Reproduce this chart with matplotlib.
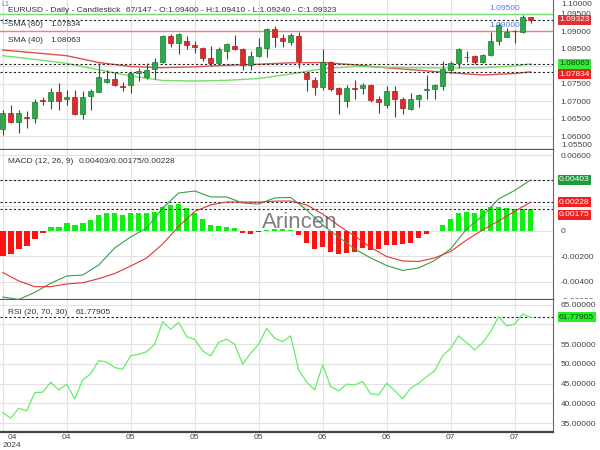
import matplotlib
matplotlib.use('Agg')
import matplotlib.pyplot as plt
import numpy as np
from matplotlib.transforms import blended_transform_factory, offset_copy, Bbox, TransformedBbox

plt.rcParams['font.family'] = ['Liberation Sans', 'DejaVu Sans']

#%% Dados
opens = [1.06200, 1.06657, 1.06400, 1.06557, 1.06514, 1.07029, 1.06986, 1.07243, 1.07057, 1.07114,
         1.06629, 1.07143, 1.07271, 1.07557, 1.07629, 1.07437, 1.07457, 1.07791, 1.07694, 1.07906,
         1.08123, 1.08857, 1.08649, 1.08714, 1.08600, 1.08523, 1.08220, 1.08077, 1.08429, 1.08580,
         1.08486, 1.08029, 1.08286, 1.08506, 1.09049, 1.08791, 1.08694, 1.08857, 1.07791, 1.07600,
         1.07391, 1.08106, 1.07363, 1.07000, 1.07380, 1.07363, 1.07449, 1.07049, 1.06886, 1.07294,
         1.07049, 1.06771, 1.07057, 1.07323, 1.07334, 1.07429, 1.07886, 1.08094, 1.08257, 1.08286,
         1.08114, 1.08314, 1.08723, 1.08837, 1.09006, 1.08980, 1.09400]
highs = [1.06743, 1.06886, 1.06743, 1.06714, 1.07057, 1.07114, 1.07371, 1.07514, 1.07314, 1.07314,
         1.07300, 1.07343, 1.08100, 1.07886, 1.07843, 1.07557, 1.07843, 1.07929, 1.08077, 1.08220,
         1.08886, 1.08914, 1.08934, 1.08857, 1.08723, 1.08551, 1.08571, 1.08551, 1.08649, 1.08886,
         1.08506, 1.08429, 1.08791, 1.09077, 1.09143, 1.08914, 1.08951, 1.08963, 1.07837, 1.07677,
         1.08477, 1.08151, 1.07409, 1.07457, 1.07600, 1.07523, 1.07477, 1.07143, 1.07429, 1.07429,
         1.07123, 1.07220, 1.07200, 1.07743, 1.07486, 1.08151, 1.08151, 1.08506, 1.08429, 1.08314,
         1.08334, 1.08980, 1.09220, 1.09094, 1.09029, 1.09457, 1.09410]
lows = [1.06029, 1.06363, 1.06086, 1.06229, 1.06371, 1.06886, 1.06771, 1.06743, 1.06886, 1.06600,
        1.06486, 1.06743, 1.07243, 1.07514, 1.07429, 1.07300, 1.07229, 1.07571, 1.07620, 1.07620,
        1.08094, 1.08534, 1.08334, 1.08477, 1.08363, 1.08151, 1.08009, 1.08049, 1.08191, 1.08457,
        1.07886, 1.07886, 1.08249, 1.08249, 1.08551, 1.08534, 1.08600, 1.07951, 1.07294, 1.07171,
        1.07314, 1.07294, 1.06629, 1.06820, 1.07057, 1.07200, 1.06980, 1.06666, 1.06791, 1.06551,
        1.06629, 1.06743, 1.06820, 1.07049, 1.07057, 1.07314, 1.07791, 1.07934, 1.08123, 1.08057,
        1.08086, 1.08286, 1.08600, 1.08820, 1.08666, 1.08934, 1.09240]
closes = [1.06657, 1.06409, 1.06657, 1.06514, 1.06971, 1.06986, 1.07243, 1.06986, 1.07114, 1.06629,
          1.07114, 1.07300, 1.07700, 1.07629, 1.07471, 1.07409, 1.07786, 1.07857, 1.07886, 1.08106,
          1.08866, 1.08649, 1.08914, 1.08600, 1.08534, 1.08220, 1.08077, 1.08486, 1.08620, 1.08486,
          1.08029, 1.08286, 1.08534, 1.09049, 1.08820, 1.08723, 1.08886, 1.08151, 1.07620, 1.07391,
          1.08106, 1.07343, 1.07200, 1.07363, 1.07351, 1.07449, 1.07029, 1.06980, 1.07286, 1.07049,
          1.06791, 1.07057, 1.07171, 1.07343, 1.07457, 1.07906, 1.08094, 1.08477, 1.08271, 1.08114,
          1.08314, 1.08723, 1.09171, 1.08980, 1.09014, 1.09400, 1.09323]

# medias moveis (a cada 4 candles)
sma_idx = [0, 4, 8, 12, 16, 20, 24, 28, 32, 36, 40, 44, 48, 52, 56, 60, 64, 66]
sma80 = [1.08457, 1.08377, 1.08294, 1.08100, 1.07986, 1.07951, 1.07977, 1.08020, 1.08051,
         1.08091, 1.08100, 1.08034, 1.07949, 1.07880, 1.07806, 1.07743, 1.07786, 1.07834]
sma40 = [1.08294, 1.08189, 1.08077, 1.07891, 1.07714, 1.07586, 1.07571, 1.07591, 1.07643,
         1.07771, 1.07923, 1.07986, 1.07963, 1.07949, 1.07943, 1.07949, 1.08000, 1.08063]

# MACD (a cada 2 candles) + histograma (todos)
macd_idx = list(range(0, 67, 2))
macd_line = [-0.00522, -0.00541, -0.00486, -0.00413, -0.00356, -0.00348, -0.00269, -0.00134, -0.00047,
             0.00024, 0.00182, 0.00300, 0.00316, 0.00269, 0.00269, 0.00221, 0.00213, 0.00261, 0.00265,
             0.00166, 0.00047, -0.00047, -0.00142, -0.00213, -0.00273, -0.00312, -0.00292, -0.00233,
             -0.00142, 0.00016, 0.00119, 0.00253, 0.00320, 0.00403]
signal_line = [-0.00328, -0.00395, -0.00440, -0.00440, -0.00419, -0.00409, -0.00377, -0.00336, -0.00277,
               -0.00213, -0.00103, 0.00036, 0.00154, 0.00206, 0.00229, 0.00229, 0.00228, 0.00236, 0.00237,
               0.00206, 0.00134, 0.00043, -0.00040, -0.00130, -0.00202, -0.00237, -0.00241, -0.00213,
               -0.00162, -0.00071, 0.00008, 0.00079, 0.00154, 0.00228]
macd_hist = [-0.00198, -0.00184, -0.00145, -0.00119, -0.00063, -0.00018, 0.00029, 0.00034, 0.00061, 0.00045,
             0.00061, 0.00087, 0.00126, 0.00145, 0.00140, 0.00126, 0.00145, 0.00145, 0.00145, 0.00153,
             0.00192, 0.00206, 0.00213, 0.00179, 0.00145, 0.00095, 0.00047, 0.00040, 0.00034, 0.00021,
             -0.00015, -0.00022, -0.00012, 0.00008, 0.00012, 0.00012, 0.00010, -0.00030, -0.00097, -0.00145,
             -0.00129, -0.00163, -0.00182, -0.00177, -0.00163, -0.00137, -0.00150, -0.00145, -0.00111, -0.00111,
             -0.00105, -0.00092, -0.00058, -0.00024, 0.00002, 0.00047, 0.00092, 0.00145, 0.00153, 0.00145,
             0.00166, 0.00187, 0.00187, 0.00179, 0.00172, 0.00172, 0.00175]

# RSI
rsi = [37.67, 36.25, 38.78, 38.10, 42.73, 42.83, 45.36, 43.40, 44.85, 41.14,
       45.95, 47.47, 50.84, 50.43, 49.07, 48.65, 52.10, 52.45, 53.10, 54.97,
       60.70, 58.78, 60.55, 56.90, 56.25, 53.29, 52.03, 55.49, 56.25, 54.97,
       49.92, 52.70, 54.97, 59.04, 56.50, 55.65, 57.09, 48.48, 45.40, 43.40,
       49.75, 44.25, 43.16, 44.86, 44.68, 45.52, 42.40, 42.15, 45.10, 43.24,
       41.14, 43.86, 45.10, 46.80, 48.23, 52.03, 53.97, 57.10, 55.39, 53.54,
       55.39, 58.18, 61.98, 59.62, 60.05, 62.66, 61.77905]

month_ticks = [0, 8, 16, 24, 32, 40, 48, 56, 64]
month_labels = ['04', '04', '05', '05', '05', '06', '06', '07', '07']
level_hi = 1.09500
level_lo = 1.09000

#%% Figura
W, H = 600, 450
fig = plt.figure(figsize=(6, 4.5), dpi=100)
right = 553 / W
ax1 = fig.add_axes([0, 1 - 150 / H, right, 150 / H])
ax2 = fig.add_axes([0, 1 - 300 / H, right, 150 / H])
ax3 = fig.add_axes([0, (H - 431.5) / H, right, 131.5 / H])

x = np.arange(len(closes))
fs = 6
txt_c = '#333333'
grid_c = '#e2e2e2'
lab_x = 559 / 553  # inicio das caixas de valor


def base_axes(ax, yticks, ylim, fmt, hidden=()):
    ax.set_xlim(-0.34, 68.8)
    ax.set_ylim(*ylim)
    ax.set_yticks(yticks)
    # rotulos cobertos pelas caixas de valor ficam vazios
    ax.set_yticklabels(['' if v in hidden else fmt(v) for v in yticks])
    ax.yaxis.tick_right()
    ax.tick_params(axis='y', length=0, pad=5.5, labelsize=fs, labelcolor='#444444')
    ax.set_xticks(month_ticks)
    ax.tick_params(axis='x', length=0, labelbottom=False)
    ax.grid(True, color=grid_c, lw=0.8)
    ax.set_axisbelow(True)
    for s in ['left', 'top']:
        ax.spines[s].set_visible(False)
    ax.spines['right'].set_color('#666666')
    ax.spines['bottom'].set_color('#555555')
    ax.spines['bottom'].set_linewidth(1.6)


def value_box(ax, val, s, fc, tc, dy=0):
    tr = blended_transform_factory(ax.transAxes, ax.transData)
    tr = offset_copy(tr, fig=fig, x=0, y=dy, units='dots')
    ax.text(lab_x, val, s, transform=tr, fontsize=fs, color=tc, va='center', ha='left',
            clip_on=False, zorder=10,
            bbox=dict(boxstyle='square,pad=0.18', fc=fc, ec='none'))


def dashed(ax, val):
    ax.axhline(val, color='#222222', ls=(0, (2, 2)), lw=0.8, zorder=3)


#%% Painel 1: candles
price_ticks = [1.060, 1.065, 1.070, 1.075, 1.080, 1.085, 1.090, 1.095]
base_axes(ax1, price_ticks, (1.0560, 1.09886), lambda v: '%.5f' % v, hidden=(1.080,))

o = np.array(opens); c = np.array(closes)
up = c >= o
body_col = np.where(up, '#2aab48', '#dd2a2a')
edge_col = np.where(up, '#1d7a33', '#b31c1c')
ax1.vlines(x, lows, highs, color='#444444', lw=0.8, zorder=4)
ax1.bar(x, np.maximum(np.abs(c - o), 0.00004), bottom=np.minimum(o, c), width=0.66,
        color=body_col, edgecolor=edge_col, lw=0.5, zorder=5)

ax1.plot(sma_idx, sma80, color='#e05050', lw=1.0, zorder=3)
ax1.plot(sma_idx, sma40, color='#77dd66', lw=1.0, zorder=3)
ax1.axhline(level_hi, color='#77dd77', lw=1.0, zorder=2)
ax1.axhline(level_lo, color='#ee8080', lw=1.0, zorder=2)
ax1.text(60.8, level_hi + 0.0015, '%.5f' % level_hi, color='#5577ee', fontsize=fs, va='center')
ax1.text(60.8, level_lo + 0.0015, '%.5f' % level_lo, color='#5577ee', fontsize=fs, va='center')
ax1.text(1 / 553, 1 - 4 / 150, 'L1', transform=ax1.transAxes, color='#5577ee', fontsize=5, va='center')
ax1.text(1 / 553, 1 - 22 / 150, 'L2', transform=ax1.transAxes, color='#5577ee', fontsize=5, va='center')

dashed(ax1, closes[-1]); dashed(ax1, sma40[-1]); dashed(ax1, sma80[-1])
value_box(ax1, closes[-1], '%.5f' % closes[-1], '#dd3333', 'white')
value_box(ax1, sma40[-1], '%.5f' % sma40[-1], '#33ee33', '#114411')
value_box(ax1, sma80[-1], '%.5f' % sma80[-1], '#ee2222', 'white', dy=-2.5)
# rotulos extremos (presos na borda)
ax1.text(561 / 553, 1 - 5 / 150, '1.10000', transform=ax1.transAxes, fontsize=fs, color='#444444', va='center', clip_on=False)
ax1.text(561 / 553, 1 - 146 / 150, '1.05500', transform=ax1.transAxes, fontsize=fs, color='#444444', va='center', clip_on=False)

ax1.text(8 / 553, 1 - 10.5 / 150, 'EURUSD - Daily - Candlestick', transform=ax1.transAxes, fontsize=fs, color=txt_c, va='center')
ax1.text(126 / 553, 1 - 10.5 / 150,
         '%d/147 - O:%.5f - H:%.5f - L:%.5f - C:%.5f' % (len(closes), opens[-1], highs[-1], lows[-1], closes[-1]),
         transform=ax1.transAxes, fontsize=fs, color=txt_c, va='center')
ax1.text(8 / 553, 1 - 25 / 150, 'SMA (80)', transform=ax1.transAxes, fontsize=fs, color=txt_c, va='center')
ax1.text(50 / 553, 1 - 25 / 150, '%.5f' % sma80[-1], transform=ax1.transAxes, fontsize=fs, color=txt_c, va='center')
ax1.text(8 / 553, 1 - 40 / 150, 'SMA (40)', transform=ax1.transAxes, fontsize=fs, color=txt_c, va='center')
ax1.text(50 / 553, 1 - 40 / 150, '%.5f' % sma40[-1], transform=ax1.transAxes, fontsize=fs, color=txt_c, va='center')

#%% Painel 2: MACD
macd_ticks = [-0.004, -0.002, 0, 0.002, 0.004, 0.006]
base_axes(ax2, macd_ticks, (-0.005455, 0.0064), lambda v: '0' if v == 0 else '%.5f' % v,
          hidden=(0.002, 0.004))
h = np.array(macd_hist)
ax2.bar(x, h, width=0.7, color=np.where(h >= 0, '#11ee11', '#ff1111'), zorder=2)
ax2.plot(macd_idx, macd_line, color='#3c9c4c', lw=0.8, zorder=4)
ax2.plot(macd_idx, signal_line, color='#e03535', lw=0.8, zorder=4)
dashed(ax2, macd_line[-1]); dashed(ax2, signal_line[-1]); dashed(ax2, macd_hist[-1])
value_box(ax2, macd_line[-1], '%.5f' % macd_line[-1], '#1f9a3c', 'white')
value_box(ax2, signal_line[-1], '%.5f' % signal_line[-1], '#ee2222', 'white')
value_box(ax2, macd_hist[-1], '%.5f' % macd_hist[-1], '#ee2222', 'white', dy=-6)
# -0.00600 fica cortado pela borda do painel
t = ax2.text(561 / 553, -0.012, '-0.00600', transform=ax2.transAxes, fontsize=fs, color='#444444', va='center')
t.set_clip_on(True)
t.set_clip_box(TransformedBbox(Bbox([[0.9, 1 - 299 / H], [1, 1 - 150 / H]]), fig.transFigure))
ax2.text(8 / 553, 1 - 11.5 / 150, 'MACD (12, 26, 9)', transform=ax2.transAxes, fontsize=fs, color=txt_c, va='center')
ax2.text(79 / 553, 1 - 11.5 / 150, '%.5f/%.5f/%.5f' % (macd_line[-1], macd_hist[-1], signal_line[-1]),
         transform=ax2.transAxes, fontsize=fs, color=txt_c, va='center')
ax2.text(300 / 553, 1 - 73 / 150, 'Arincen', transform=ax2.transAxes, fontsize=16, color='#555555',
         alpha=0.75, ha='center', va='center', zorder=6)

#%% Painel 3: RSI
rsi_ticks = [35, 40, 45, 50, 55, 60, 65]
base_axes(ax3, rsi_ticks, (32.86, 66.2), lambda v: '%.5f' % v, hidden=(60,))
ax3.plot(x, rsi, color='#66ee66', lw=0.9, zorder=4)
dashed(ax3, rsi[-1])
value_box(ax3, rsi[-1], '%.5f' % rsi[-1], '#22ee22', '#114411')
ax3.text(8 / 553, 1 - 12.5 / 131.5, 'RSI (20, 70, 30)', transform=ax3.transAxes, fontsize=fs, color=txt_c, va='center')
ax3.text(76 / 553, 1 - 12.5 / 131.5, '%.5f' % rsi[-1], transform=ax3.transAxes, fontsize=fs, color=txt_c, va='center')

ax3.spines['bottom'].set_color('#444444')
ax3.tick_params(axis='x', labelbottom=True, pad=1.5, labelsize=fs, labelcolor='#444444')
ax3.set_xticklabels([''] + month_labels[1:])
tr3 = blended_transform_factory(ax3.transData, ax3.transAxes)
ax3.text(1.16, -0.045, month_labels[0], transform=tr3, fontsize=fs, color='#444444', ha='center', va='center')
ax3.text(1.16, -0.105, '2024', transform=tr3, fontsize=fs, color='#444444', ha='center', va='center')

fig.savefig('out.png', dpi=100)
